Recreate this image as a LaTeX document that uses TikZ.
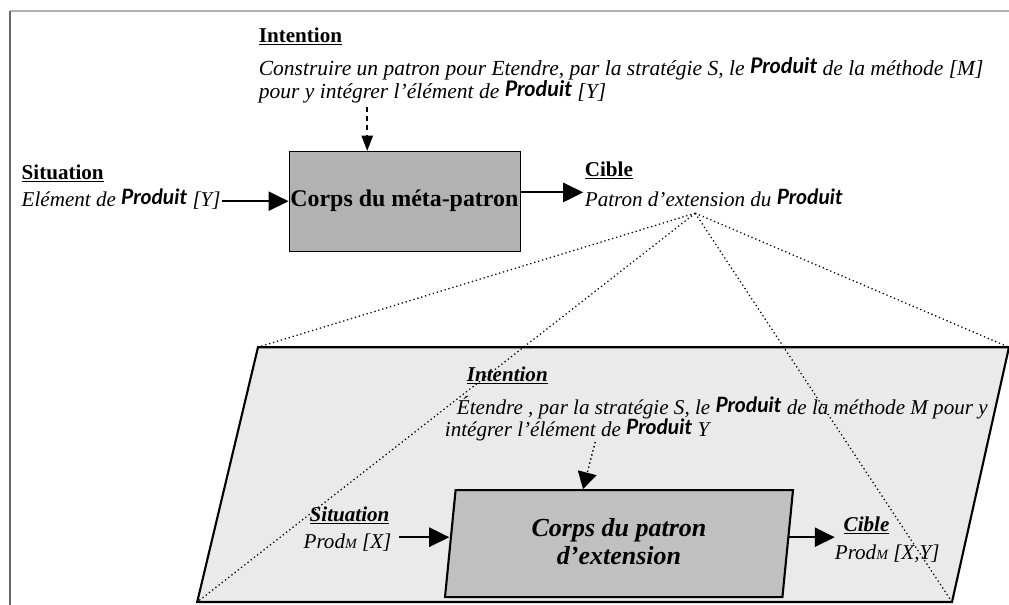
\documentclass[tikz,border=0pt]{standalone}
\usepackage{fontspec}
\setmainfont{Liberation Serif}
\newfontfamily\prodfont{Lato}
\usetikzlibrary{arrows.meta,shapes.geometric}
\definecolor{panel}{RGB}{234,234,234}
\definecolor{metagray}{RGB}{178,178,178}
\definecolor{bodygray}{RGB}{192,192,192}
\newcommand{\produit}{\raisebox{0.2ex}{\prodfont\bfseries Produit}}
\newcommand{\prodm}{Prod{\fontsize{10}{10}\selectfont M}}

\begin{document}
\begin{tikzpicture}[
  txt/.style={font=\fontsize{15}{16}\selectfont\itshape,inner sep=1pt,anchor=base west},
  lab/.style={font=\fontsize{15}{16}\selectfont\bfseries,inner sep=1pt,anchor=base west},
  ilab/.style={font=\fontsize{15}{16}\selectfont\bfseries\itshape,inner sep=1pt,anchor=base west},
  arr/.style={-{Triangle[length=0.5cm,width=0.48cm]},line width=1.4pt},
  para/.style={trapezium,trapezium stretches body,draw,line width=1.5pt,inner sep=0pt}]
  \useasboundingbox (0,0) rectangle (25.225,-15.125);
  % cadre
  \draw[gray!60,line width=1.1pt] (0.25,-0.28) -- (25.3,-0.28);
  \draw[gray!80!black,line width=1.6pt] (0.25,-0.28) -- (0.25,-15.2);
  % meta-patron
  \node[lab] (int) at (6.43,-1.05) {\underline{Intention}};
  \node[txt,font=\fontsize{15.3}{16}\selectfont\itshape] (intA) at (6.43,-1.88) {Construire un patron pour Etendre, par la stratégie S, le \produit\ de la méthode [M]};
  \node[txt,font=\fontsize{15.3}{16}\selectfont\itshape] (intB) at (6.43,-2.45) {pour y intégrer l’élément de \produit\ [Y]};
  \node[draw,fill=metagray,minimum width=5.78cm,minimum height=2.5cm,inner sep=0pt,font=\fontsize{17}{18}\selectfont\bfseries] (meta) at (10.11,-5.03) {Corps du méta-patron};
  \node[lab] (sit) at (0.5,-4.48) {\underline{Situation}};
  \node[txt] (sitY) at (0.5,-5.15) {Elément de \produit\ [Y]};
  \node[lab] (cib) at (14.58,-4.4) {\underline{Cible}};
  \node[txt] (cibP) at (14.58,-5.15) {Patron d’extension du \produit};
  \coordinate (dash) at (9.18,-2.68);
  \coordinate (apex) at (17.38,-5.33);
  \draw[arr] (sitY.east |- meta.west) -- (meta.west);
  \draw[arr] ([yshift=0.22cm]meta.east) -- ([yshift=0.22cm]meta.east -| cibP.west);
  \draw[line width=1.4pt,dash pattern=on 3.5pt off 3pt,-{Triangle[length=0.38cm,width=0.28cm]}] (dash) -- (dash |- meta.north);
  % patron d'extension
  \coordinate (pTL) at (6.45,-8.68);
  \coordinate (pTR) at (25.225,-8.68);
  \coordinate (pBR) at (23.8,-15.05);
  \coordinate (pBL) at (4.93,-15.05);
  \draw[fill=panel,line width=1.5pt] (pTL) -- (pTR) -- (pBR) -- (pBL) -- cycle;
  \node[ilab] (int2) at (11.63,-9.53) {\underline{Intention}};
  \node[txt] (int2A) at (11.38,-10.35) {Étendre , par la stratégie S, le \produit\ de la méthode M pour y};
  \node[txt] (int2B) at (11.08,-10.9) {intégrer l’élément de \produit\ Y};
  \node[para,fill=bodygray,trapezium left angle=78,trapezium right angle=102,minimum width=8.7cm,minimum height=2.675cm,align=center,font=\fontsize{18.5}{20}\selectfont\bfseries\itshape] (corps) at (15.475,-13.59) {\raisebox{0.1cm}{\shortstack{Corps du patron\\d’extension}}};
  \node[ilab] (sit2) at (7.7,-13.03) {\underline{Situation}};
  \node[txt] (sit2X) at (7.55,-13.7) {\prodm\ [X]};
  \node[ilab] (cib2) at (21.05,-13.28) {\underline{Cible}};
  \node[txt] (cib2X) at (20.83,-13.98) {\prodm\ [X,Y]};
  \coordinate (dot2) at (14.88,-11.05);
  \draw[dotted,line width=1pt,-{Triangle[length=0.42cm,width=0.48cm]}] (dot2) -- ([xshift=-0.9cm]corps.north);
  \draw[arr] ([xshift=-1.25cm,yshift=0.16cm]corps.west) -- ([yshift=0.16cm]corps.west);
  \draw[arr] ([yshift=0.16cm]corps.east) -- +(1.15,0);
  % lignes de projection
  \draw[dotted,line width=0.9pt] (apex) -- (pTL);
  \draw[dotted,line width=0.9pt] (apex) -- (pBL);
  \draw[dotted,line width=0.9pt] (apex) -- (pTR);
  \draw[dotted,line width=0.9pt] (apex) -- (pBR);
\end{tikzpicture}
\end{document}
